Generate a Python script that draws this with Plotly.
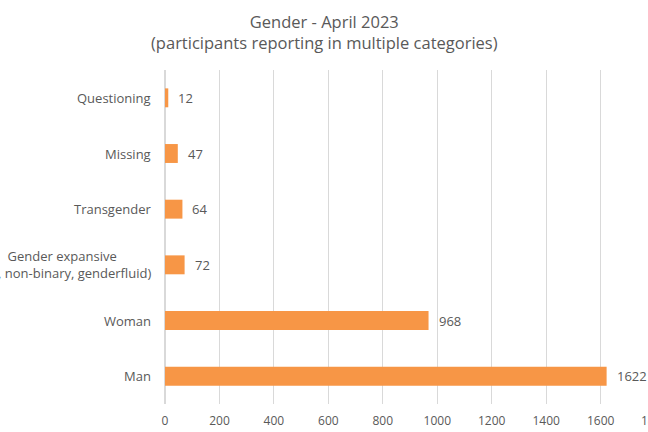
import plotly.graph_objects as go

categories = ["Man", "Woman", "Gender expansive<br>(e.g., non-binary, genderfluid)",
              "Transgender", "Missing", "Questioning"]
values = [1622, 968, 72, 64, 47, 12]
x_ticks = [0, 200, 400, 600, 800, 1000, 1200, 1400, 1600, 1800]
x_max = 1774

GRAY = "#595959"
FONT = "Open Sans"

fig = go.Figure()
fig.add_trace(go.Bar(
    y=list(range(len(categories))), x=values, orientation="h",
    marker=dict(color="#F79646", line=dict(width=0)),
    hoverinfo="x+y",
))

for i, c in enumerate(categories):
    fig.add_annotation(x=0, y=i, xref="x", yref="y", text=c, showarrow=False,
                       xanchor="right", align="center", xshift=-12,
                       font=dict(family=FONT, size=13, color=GRAY))

for i, v in enumerate(values):
    fig.add_annotation(x=v, y=i, xref="x", yref="y", text=str(v), showarrow=False,
                       xanchor="left", xshift=8,
                       font=dict(family=FONT, size=13, color=GRAY))

# last tick label, partly beyond the right edge as in the reference
fig.add_annotation(x=x_ticks[-1] / x_max, y=0, xref="paper", yref="paper",
                   text=str(x_ticks[-1]),
                   showarrow=False, xanchor="center", yanchor="middle", yshift=-16,
                   font=dict(family=FONT, size=12, color=GRAY))

fig.add_annotation(x=0.331, y=1.114, xref="paper", yref="paper",
                   text="Gender - April 2023<br>(participants reporting in multiple categories)",
                   showarrow=False, xanchor="center", yanchor="middle", align="center",
                   font=dict(family=FONT, size=16.5, color=GRAY))

fig.update_layout(
    width=648, height=432,
    margin=dict(l=165, r=0, t=70, b=28),
    paper_bgcolor="white", plot_bgcolor="white",
    bargap=0.66, showlegend=False,
    xaxis=dict(range=[0, x_max], tickvals=x_ticks, showgrid=True, gridcolor="#D9D9D9",
               zeroline=True, zerolinecolor="#D9D9D9", showline=False, ticks="",
               ticklabelstandoff=8,
               tickfont=dict(family=FONT, size=12, color=GRAY)),
    yaxis=dict(range=[-0.5, 5.5], showticklabels=False, showgrid=False, zeroline=False,
               ticks=""),
)

fig.write_html("out.html", config={"displayModeBar": False},
               post_script="document.body.style.margin='0';")
